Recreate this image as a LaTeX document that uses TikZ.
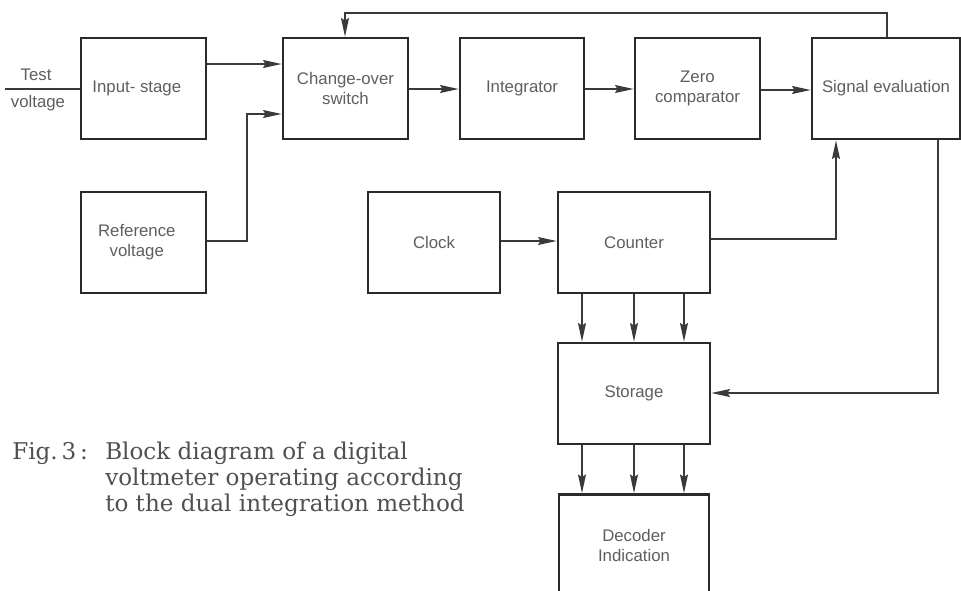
\documentclass[tikz,border=0pt]{standalone}
\usepackage{fontspec}
\setmainfont{Liberation Sans}
\newfontfamily\capfont{DejaVu Serif}
\usetikzlibrary{arrows.meta}
\definecolor{boxc}{HTML}{2A2A2A}
\definecolor{wirec}{HTML}{3A3A3A}
\definecolor{lblc}{HTML}{5E5E5E}
\definecolor{capc}{HTML}{505050}
\begin{document}
\begin{tikzpicture}[x=0.75pt,y=-0.75pt,
  box/.style={draw=boxc,line width=2.1pt,rectangle,minimum width=93.75pt,minimum height=75.75pt,
    inner sep=0pt,text=lblc,font=\fontsize{12.6}{15}\selectfont,align=center},
  wire/.style={draw=wirec,line width=1.1pt},
  arr/.style={wire,-{Stealth[length=14pt,width=6pt,inset=2pt]}},
  lbl/.style={text=lblc,font=\fontsize{12.6}{15}\selectfont,inner sep=0pt},
  captxt/.style={text=capc,font=\capfont\fontsize{17.3}{20}\selectfont,inner sep=0pt,anchor=base west}]
\useasboundingbox (0,0) rectangle (961,590);
\begin{scope}
\clip (0,0) rectangle (961,590);
% blocks
\node[box] (input) at (143.5,88.5) {Input- stage\hspace*{10pt}};
\node[box] (switch) at (345.5,88.5) {Change-over\\switch};
\node[box,minimum width=93pt] (integ) at (522,88.5) {Integrator};
\node[box] (zero) at (697.5,88.5) {Zero\\comparator};
\node[box,minimum width=111pt] (signal) at (886,88.5) {Signal evaluation};
\node[box] (ref) at (143.5,242.5) {Reference\hspace*{10pt}\\voltage\hspace*{10pt}};
\node[box,minimum width=99pt] (clock) at (434,242.5) {Clock};
\node[box,minimum width=114pt] (counter) at (634,242.5) {Counter};
\node[box,minimum width=114pt] (storage) at (634,393.5) {Storage};
\node[box,minimum width=112.5pt] (decoder) at (634,545) {Decoder\\Indication};
% test voltage input
\coordinate (tvin) at (5,89);
\draw[wire] (tvin) -- (input.west |- tvin);
\node[lbl] (test) at (36,75) {Test};
\node[lbl] (volt) at (38,103) {voltage};
% connectors
\draw[arr] (input.east |- 0,64) -- (switch.west |- 0,64);
\draw[arr] (ref.east |- 0,241) -| (247,114) -- (switch.west |- 0,114);
\draw[arr] (switch.east |- 0,89) -- (integ.west |- 0,89);
\draw[arr] (integ.east |- 0,89) -- (zero.west |- 0,89);
\draw[arr] (zero.east |- 0,90) -- (signal.west |- 0,90);
\draw[arr] (signal.north -| 887,0) |- (345,13) -- (switch.north -| 345,0);
\draw[arr] (clock.east |- 0,241) -- (counter.west |- 0,241);
\draw[arr] (counter.east |- 0,239) -| (signal.south -| 836,0);
\draw[arr] (signal.south -| 938,0) |- (storage.east |- 0,393);
\foreach \x in {582,634,684} {
  \draw[arr] (counter.south -| \x,0) -- (storage.north -| \x,0);
  \draw[arr] (storage.south -| \x,0) -- (decoder.north -| \x,0);
}
% caption
\node[captxt] (figno) at (12,459) {Fig.\,3\,:};
\node[captxt] (capA) at (105,459) {Block diagram of a digital};
\node[captxt] (capB) at (105,485) {voltmeter operating according};
\node[captxt] (capC) at (105,511) {to the dual integration method};
\end{scope}
\end{tikzpicture}
\end{document}
